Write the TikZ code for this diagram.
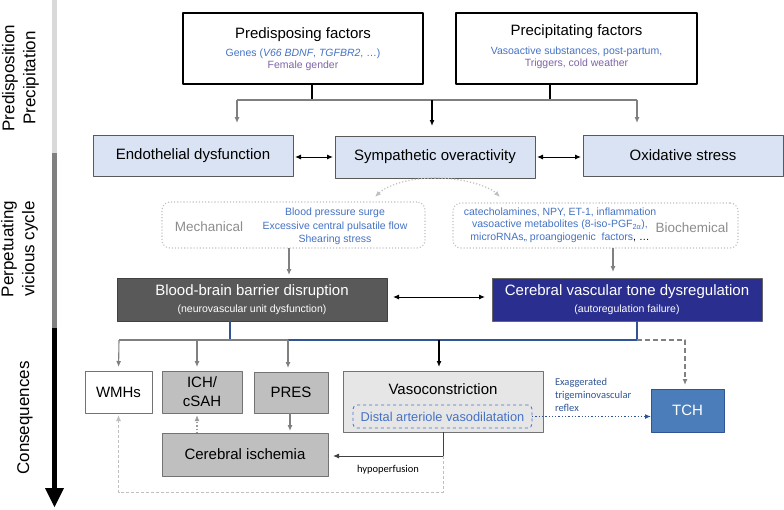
\documentclass[tikz,border=0pt]{standalone}
\usepackage{fontspec}
\setmainfont{Liberation Sans}
\newfontfamily\calibrifont{Carlito}
\usetikzlibrary{positioning,arrows.meta,calc}

\definecolor{barlight}{HTML}{D9D9D9}
\definecolor{barmid}{HTML}{808080}
\definecolor{paleblue}{HTML}{DAE3F3}
\definecolor{linegray}{HTML}{808080}
\definecolor{txtblue}{HTML}{4472C4}
\definecolor{txtpurple}{HTML}{7F63A6}
\definecolor{txtgray}{HTML}{8C8C8C}
\definecolor{dotgray}{HTML}{BFBFBF}
\definecolor{bbbgray}{HTML}{595959}
\definecolor{cvtnavy}{HTML}{2A2E8E}
\definecolor{outfill}{HTML}{BFBFBF}
\definecolor{vasofill}{HTML}{E7E6E6}
\definecolor{tchblue}{HTML}{4A7DBA}
\definecolor{linkblue}{HTML}{2F5597}

\begin{document}
\begin{tikzpicture}[x=1pt, y=-1pt, >={Latex[length=6pt,width=5pt]}, line join=bevel,
    every node/.style={inner sep=0pt, outer sep=0pt},
    factorbox/.style={draw=black, line width=1.2pt, minimum width=240pt, minimum height=71pt},
    mainbox/.style={draw=black!65, line width=0.8pt, fill=paleblue, minimum width=200pt,
      minimum height=41pt, font=\fontsize{15}{18}\selectfont},
    routebox/.style={draw=dotgray, dotted, line width=1.1pt, rounded corners=8pt},
    darkbox/.style={minimum width=270pt, minimum height=43pt, text=white, align=center,
      line width=0.8pt, font=\fontsize{10.5}{17.5}\selectfont},
    outbox/.style={draw=black!55, line width=0.8pt, fill=outfill, align=center,
      font=\fontsize{15}{19}\selectfont},
    grayarrow/.style={->, draw=linegray, line width=1.1pt, shorten >=4pt}]
  \useasboundingbox (0,0) rectangle (784,509);
  %%
  % phase bar
  \fill[barlight] (52,0) rectangle (57,153);
  \fill[barmid] (52,153) rectangle (57,328);
  \fill[black] (52,328) rectangle (57,489);
  \fill[black] (45,488) -- (64,488) -- (54.5,507) -- cycle;
  \node[rotate=90, align=center, font=\fontsize{17}{21}\selectfont] (phaseone) at (20.5,78) {Predisposition\\Precipitation};
  \node[rotate=90, align=center, font=\fontsize{17}{21}\selectfont] (phasetwo) at (19.5,249) {Perpetuating\\vicious cycle};
  \node[rotate=90, font=\fontsize{17}{21}\selectfont] (phasethree) at (25,418) {Consequences};
  %
  % Node: pred
  \node[factorbox] (pred) at (303,48.5) {};
  \node[font=\fontsize{15}{18}\selectfont] (predtitle) at (303,35) {Predisposing factors};
  \node[align=center, font=\fontsize{10.5}{12}\selectfont] (predtext) at (303,60)
    {\textcolor{txtblue}{Genes (\textit{V66 BDNF}, \textit{TGFBR2}, …)}\\\textcolor{txtpurple}{Female gender}};
  % Node: prec
  \node[factorbox, minimum width=241pt] (prec) at (576.5,48.5) {};
  \node[font=\fontsize{15}{18}\selectfont] (prectitle) at (576.5,32) {Precipitating factors};
  \node[align=center, font=\fontsize{10.5}{12}\selectfont] (prectext) at (576.5,58)
    {\textcolor{txtblue}{Vasoactive substances, post-partum,}\\\textcolor{txtpurple}{Triggers, cold weather}};
  %
  % Node: endo, symp, oxid
  \node[mainbox] (endo) at (193,155.5) {Endothelial dysfunction};
  \node[mainbox, minimum height=42pt] (symp) at (435,157) {Sympathetic overactivity};
  \node[mainbox] (oxid) at (683,155.5) {Oxidative stress};
  %
  \coordinate (topleft) at (237,100);
  \coordinate (topmid) at (432,100);
  \coordinate (topright) at (637,100);
  \draw[line width=1.2pt] ([xshift=9pt]pred.south) -- ++(0,16);
  \draw[line width=1.2pt] ([xshift=-26.5pt]prec.south) -- ++(0,16);
  \draw[linegray, line width=1.2pt] (topleft) -- (topright);
  \draw[grayarrow, shorten >=12pt] (topleft) -- ([xshift=44pt]endo.north);
  \draw[->, line width=1.2pt, shorten >=10pt] (topmid) -- ([xshift=-3pt]symp.north);
  \draw[grayarrow, shorten >=12pt] (topright) -- ([xshift=-46pt]oxid.north);
  \draw[<->, line width=1pt, shorten <=2pt, shorten >=2pt] (endo.east |- symp.west) -- (symp.west);
  \draw[<->, line width=1pt, shorten <=2pt, shorten >=2pt] (symp.east) -- (symp.east -| oxid.west);
  %
  % Node: mech, bio
  \coordinate (mechtip) at (375,197);
  \coordinate (biotip) at (500,197);
  \draw[->, dotgray, dotted, line width=1.2pt] (symp.south) .. controls (405,178) and (385,187) .. (mechtip);
  \draw[->, dotgray, dotted, line width=1.2pt] (symp.south) .. controls (465,178) and (490,187) .. (biotip);
  \node[routebox, minimum width=263pt, minimum height=46pt] (mech) at (293.5,225) {};
  \node[text=txtgray, font=\fontsize{13.5}{16}\selectfont] (mechlabel) at (209,227) {Mechanical};
  \node[text=txtblue, align=center, font=\fontsize{10.5}{13.5}\selectfont] (mechtext) at (335,226.5)
    {Blood pressure surge\\Excessive central pulsatile flow\\Shearing stress};
  \node[routebox, minimum width=285pt, minimum height=45pt] (bio) at (595.5,225.5) {};
  \node[text=txtblue, align=center, font=\fontsize{10.5}{12.5}\selectfont] (biotext) at (560,225)
    {catecholamines, NPY, ET-1, inflammation\\vasoactive metabolites (8-iso-PGF\textsubscript{2α}),\\microRNAs,, proangiogenic\ \ factors\textcolor{black}{, …}};
  \node[text=txtgray, font=\fontsize{13.5}{16}\selectfont] (biolabel) at (692,228) {Biochemical};
  %
  % Node: bbb, cvt
  \node[darkbox, fill=bbbgray, draw=black!75] (bbb) at (252,299.5)
    {{\fontsize{15}{18}\selectfont Blood-brain barrier disruption}\\(neurovascular unit dysfunction)};
  \node[darkbox, fill=cvtnavy, draw=black!60] (cvt) at (627,299.5)
    {{\fontsize{15}{18}\selectfont Cerebral vascular tone dysregulation}\\(autoregulation failure)};
  \draw[grayarrow, shorten >=3pt] ([xshift=-4.5pt]mech.south) -- ([xshift=37pt]bbb.north);
  \draw[grayarrow, shorten >=6pt] ([xshift=17.5pt]bio.south) -- ([xshift=-14pt]cvt.north);
  \draw[<->, line width=1pt, shorten <=6pt, shorten >=7pt] ([yshift=2.5pt]bbb.east) -- ([yshift=2.5pt]cvt.west);
  %
  % Node: consequences
  \node[outbox, fill=white, minimum width=67pt, minimum height=42pt] (wmh) at (118.5,392) {WMHs};
  \node[outbox, minimum width=80pt, minimum height=42pt] (ich) at (202,392) {ICH/\\cSAH};
  \node[outbox, minimum width=74pt, minimum height=41pt] (pres) at (291,392.5) {PRES};
  \node[outbox, fill=vasofill, minimum width=200pt, minimum height=61pt] (vaso) at (443,401.5) {};
  \node[font=\fontsize{15}{18}\selectfont] (vasotitle) at (443,389) {Vasoconstriction};
  \node[draw=txtblue, dashed, rounded corners=4pt, line width=0.8pt, text=txtblue, minimum width=179pt,
    minimum height=23pt, font=\fontsize{12.8}{15}\selectfont] (distal) at (442.5,416.5) {Distal arteriole vasodilatation};
  \node[outbox, minimum width=166pt, minimum height=43pt] (isch) at (245,454.5) {Cerebral ischemia};
  \node[draw=linkblue, fill=tchblue, text=white, line width=0.8pt, minimum width=73pt, minimum height=43pt,
    font=\fontsize{15}{18}\selectfont] (tch) at (687.5,410.5) {TCH};
  %
  \coordinate (splitleft) at (119,340);
  \coordinate (splitich) at (197,340);
  \coordinate (bbbjoin) at (230,340);
  \coordinate (splitmid) at (288,340);
  \coordinate (vasojoin) at (439,340);
  \coordinate (splitright) at (637,340);
  \coordinate (tchturn) at (685,340);
  \draw[linkblue, line width=1.2pt] ([xshift=-22pt]bbb.south) -- (bbbjoin);
  \draw[linkblue, line width=1.2pt] ([xshift=10pt]cvt.south) -- (splitright) -- (splitmid);
  \draw[linegray, line width=1.2pt] (splitleft) -- (splitmid);
  \draw[grayarrow] (splitleft) -- (wmh.north);
  \draw[grayarrow] (splitich) -- ([xshift=-5pt]ich.north);
  \draw[grayarrow] (splitmid) -- ([xshift=-3pt]pres.north);
  \draw[->, line width=1.2pt, shorten >=4pt] (vasojoin) -- ([xshift=-4pt]vaso.north);
  \draw[->, linegray, dash pattern=on 5pt off 3pt, line width=1.2pt, shorten >=4pt] (splitright) -- (tchturn) -- ([xshift=-2.5pt]tch.north);
  %
  \draw[grayarrow, shorten >=2pt] ([xshift=-1pt]pres.south) -- ([xshift=45pt]isch.north);
  \draw[->, linegray!80, dotted, line width=1.2pt, shorten >=2pt] ([xshift=-48pt]isch.north) -- ([xshift=-5pt]ich.south);
  \coordinate (hypoturn) at (443,456);
  \coordinate (loopright) at (443,492);
  \coordinate (loopleft) at (118.5,492);
  \draw[->, black!75, line width=1pt, shorten >=5pt] (vaso.south) -- (hypoturn) -- (hypoturn -| isch.east);
  \node[font=\calibrifont\fontsize{10.5}{12}\selectfont] (hypolabel) at (388,470) {hypoperfusion};
  \draw[->, dotgray, dash pattern=on 3pt off 2pt, line width=1pt, shorten >=2pt] (hypoturn) -- (loopright) -- (loopleft) -- (wmh.south);
  \draw[->, linkblue, dotted, line width=1.3pt] (distal.east) -- (distal.east -| tch.west);
  \node[anchor=west, align=left, text=linkblue, font=\calibrifont\fontsize{10.5}{13}\selectfont] (reflexlabel) at (555,395)
    {Exaggerated\\trigeminovascular\\reflex};
  %
\end{tikzpicture}
\end{document}
